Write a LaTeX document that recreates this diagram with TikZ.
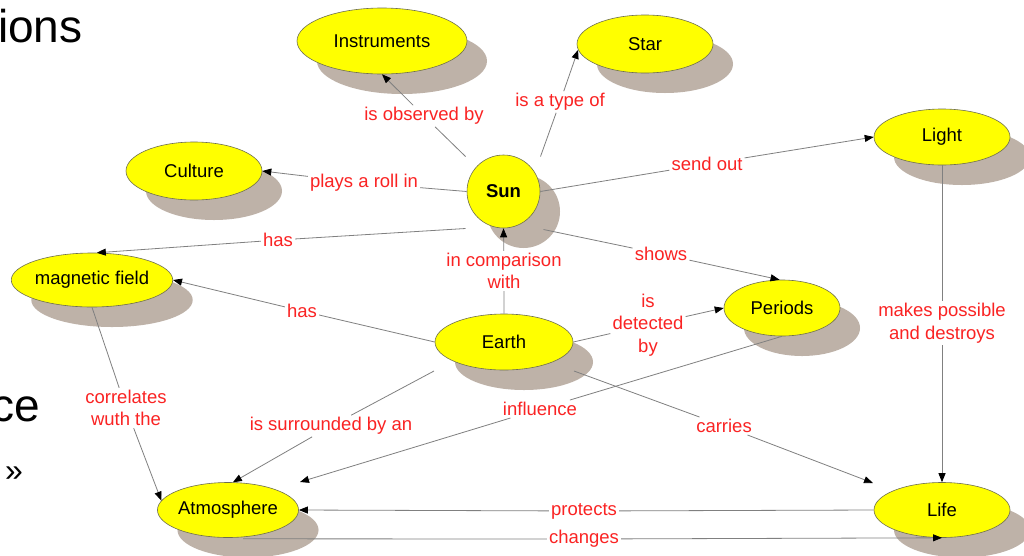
\documentclass[tikz,border=0pt]{standalone}
\usepackage{fontspec}
\setmainfont{Liberation Sans}
\usetikzlibrary{arrows.meta,shapes.geometric,shadows,calc}
\definecolor{nodeyellow}{RGB}{255,255,0}
\definecolor{shadowc}{RGB}{190,178,168}
\definecolor{edgec}{RGB}{128,128,128}
\definecolor{labred}{RGB}{250,35,35}
\definecolor{nodeborder}{RGB}{110,110,80}
\begin{document}
\begin{tikzpicture}[x=1pt,y=-1pt,
  concept/.style={ellipse, fill=nodeyellow, draw=nodeborder, line width=0.6pt, inner sep=0pt,
    font=\fontsize{18.5}{21}\selectfont,
    drop shadow={shadow xshift=20pt, shadow yshift=-20pt, fill=shadowc, opacity=1}},
  lab/.style={text=labred, font=\fontsize{18.5}{22.5}\selectfont, inner sep=2pt, align=center},
  link/.style={draw=edgec, line width=0.8pt, -{Triangle[length=9pt,width=7pt,color=black]}},
  titletext/.style={inner sep=0pt, font=\fontsize{46}{52}\selectfont}]
\fill[white] (0,0) rectangle (1024,555);
\clip (0,0) rectangle (1024,555);

% slide text fragments
\node[titletext, anchor=base west] (t1) at (-2,42) {ions};
\node[titletext, anchor=base east] (t2) at (40,421) {ce};
\node[inner sep=0pt, font=\fontsize{32}{36}\selectfont] (t3) at (14,474) {»};

% concepts
\node[concept, minimum width=170pt, minimum height=66pt] (instr) at (382,41) {Instruments};
\node[concept, minimum width=136pt, minimum height=58pt] (star) at (645,44) {Star};
\node[concept, circle, minimum size=73pt, font=\fontsize{18.5}{21}\selectfont\bfseries] (sun) at (503.5,191.5) {Sun};
\node[concept, minimum width=136pt, minimum height=58pt] (cult) at (194,171) {Culture};
\node[concept, minimum width=156pt, minimum height=54pt] (mag) at (92,280) {magnetic field};
\node[concept, minimum width=136pt, minimum height=56pt] (light) at (942,137) {Light};
\node[concept, minimum width=116pt, minimum height=56pt] (per) at (782,308) {Periods};
\node[concept, minimum width=138pt, minimum height=56pt] (earth) at (504,342) {Earth};
\node[concept, minimum width=136pt, minimum height=55pt] (atm) at (228,510) {Atmosphere};
\node[concept, minimum width=136pt, minimum height=55pt] (life) at (942,510) {Life};

% link labels
\node[lab] (l1) at (424,116) {is observed by};
\node[lab] (l2) at (560,102) {is a type of};
\node[lab] (l3) at (364,183) {plays a roll in};
\node[lab] (l4) at (707,164) {send out};
\node[lab] (l5) at (278,240) {has};
\node[lab] (l6) at (504,271) {in comparison\\with};
\node[lab] (l7) at (661,254) {shows};
\node[lab] (l8) at (302,311) {has};
\node[lab] (l9) at (648,325) {is\\detected\\by};
\node[lab] (l10) at (540,409) {influence};
\node[lab] (l11) at (331,426) {is surrounded by an};
\node[lab] (l12) at (724,426) {carries};
\node[lab] (l13) at (126,408) {correlates\\wuth the};
\node[lab] (l14) at (942,323) {makes possible\\and destroys};
\node[lab] (l15) at (584,511) {protects};
\node[lab] (l16) at (584,539) {changes};

% connectors
\draw[link] ($(sun)+(-38,-35)$) -- (l1) -- (instr.south);
\draw[link] ($(sun)+(37,-35)$) -- (l2) -- (star.185);
\draw[link] (sun.west) -- (l3) -- (cult.east);
\draw[link] (sun.east) -- (l4) -- (light.west);
\draw[link] ($(sun)+(-38,37)$) -- (l5) -- (mag.80);
\draw[link] (earth.north) -- (l6) -- (sun.south);
\draw[link] ($(sun)+(40,38)$) -- (l7) -- (per.95);
\draw[link] (earth.west) -- (l8) -- (mag.east);
\draw[link] (earth.east) -- (l9) -- (per.west);
\draw[link] (per.south) -- (l10) -- ($(atm)+(72,-28)$);
\draw[link] ($(earth)+(-70,29)$) -- (l11) -- (atm.80);
\draw[link] ($(earth)+(70,29)$) -- (l12) -- ($(life)+(-69,-27)$);
\draw[link] (mag.south) -- (l13) -- (atm.172);
\draw[link] (light.south) -- (l14) -- (life.north);
\draw[link] (life.west) -- (l15) -- (atm.east);
\draw[link] ($(atm.south)+(15,1)$) -- (l16) -- (life.south);
\end{tikzpicture}
\end{document}
